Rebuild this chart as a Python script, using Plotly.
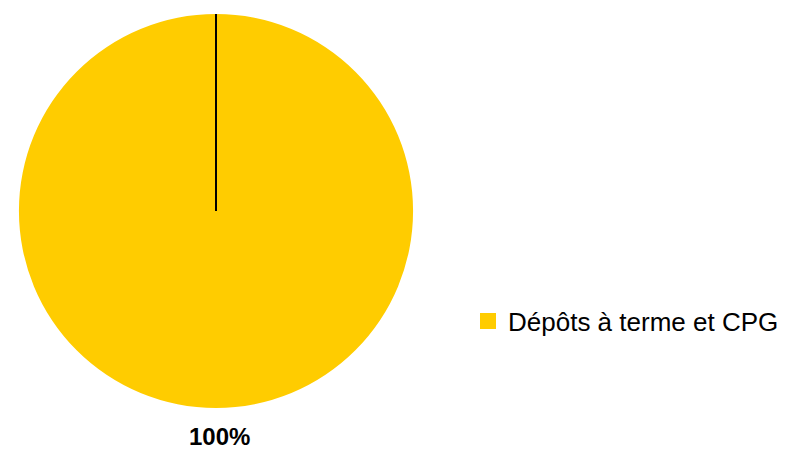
import plotly.graph_objects as go

# Portfolio allocation
categories = ["Dépôts à terme et CPG"]
values = [100]
colors = ["#FFCC00"]

W, H = 789, 455
# pie placement in pixels (left, right, top, bottom)
px_left, px_right, px_top, px_bottom = 19, 413, 14, 408
dom_x = [px_left / W, px_right / W]
dom_y = [1 - px_bottom / H, 1 - px_top / H]

total = sum(values)
pct_labels = [f"{round(v / total * 100)}%" for v in values]

FONT = "Liberation Sans, Arial, sans-serif"

fig = go.Figure(
    go.Pie(
        labels=categories,
        values=values,
        marker=dict(colors=colors, line=dict(width=0)),
        textinfo="none",
        sort=False,
        direction="clockwise",
        rotation=0,
        hoverinfo="skip",
        domain=dict(x=dom_x, y=dom_y),
        showlegend=True,
    )
)

cx = (dom_x[0] + dom_x[1]) / 2
cy = (dom_y[0] + dom_y[1]) / 2

# slice boundary from the centre up to the rim
fig.add_shape(
    type="line", xref="paper", yref="paper",
    x0=cx, y0=cy, x1=cx, y1=dom_y[1],
    line=dict(color="#000000", width=2),
)

# percentage label below the pie
fig.add_annotation(
    x=cx + 3 / W, y=1 - 436 / H, xref="paper", yref="paper",
    text=f"<b>{pct_labels[0]}</b>", showarrow=False,
    font=dict(size=24, color="#000000", family=FONT),
    xanchor="center", yanchor="middle",
)

fig.update_layout(
    width=W, height=H,
    margin=dict(l=0, r=0, t=0, b=0),
    paper_bgcolor="#FFFFFF",
    plot_bgcolor="#FFFFFF",
    font=dict(family=FONT, color="#000000"),
    legend=dict(
        x=468 / W, y=1 - 321 / H, xanchor="left", yanchor="middle",
        font=dict(size=26, color="#000000", family=FONT),
        bgcolor="rgba(0,0,0,0)", borderwidth=0,
    ),
)

# enlarge the legend swatch
post = """
function growSwatch(){
  document.querySelectorAll('path.legendpie').forEach(function(p){
    p.setAttribute('d','M8,8H-8V-8H8Z');
  });
}
growSwatch();
var gd = document.querySelector('.plotly-graph-div');
gd.on('plotly_afterplot', growSwatch);
"""

fig.write_html("out.html", post_script=post, config={"displayModeBar": False})
